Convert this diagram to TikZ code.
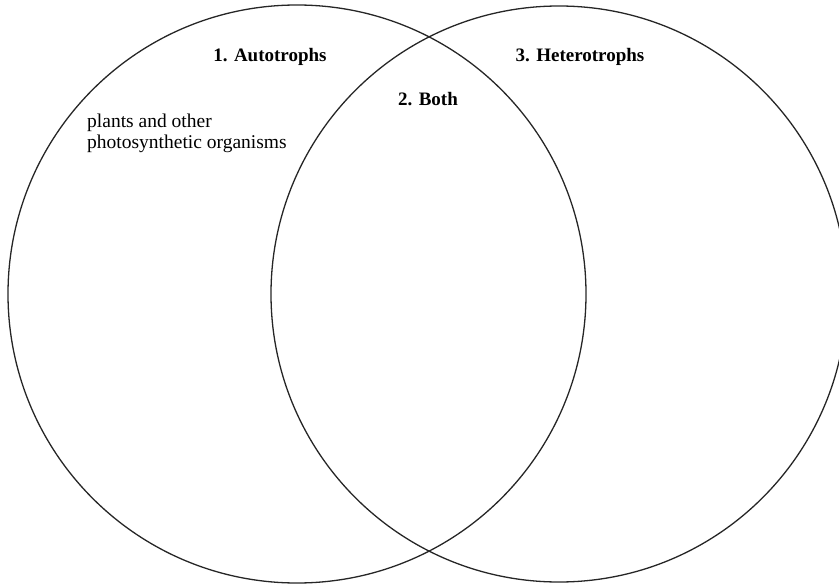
\documentclass[tikz,border=0pt]{standalone}
\usepackage{fontspec}
\setmainfont{Liberation Serif}
\begin{document}
\begin{tikzpicture}[x=1pt,y=-1pt,
  ring/.style={draw=black!85,line width=1.3pt},
  heading/.style={font=\fontsize{19}{22}\selectfont\bfseries,inner sep=0pt,anchor=base},
  body/.style={font=\fontsize{19.5}{20}\selectfont,inner sep=0pt,anchor=base west}]
\useasboundingbox (0,0) rectangle (839,586);
\begin{scope}
\clip (0,0) rectangle (839,586);
\node[ring,circle,minimum size=578pt,inner sep=0pt] (left) at (297,294) {};
\node[ring,circle,minimum size=576pt,inner sep=0pt] (right) at (559,294) {};
\end{scope}
\node[heading] (auto) at (270,62) {1. Autotrophs};
\node[heading] (het) at (580,62) {3. Heterotrophs};
\node[heading] (both) at (428,106) {2. Both};
\node[body] (plants1) at (87,128) {plants and other};
\node[body] (plants2) at (87,148) {photosynthetic organisms};
\end{tikzpicture}
\end{document}
